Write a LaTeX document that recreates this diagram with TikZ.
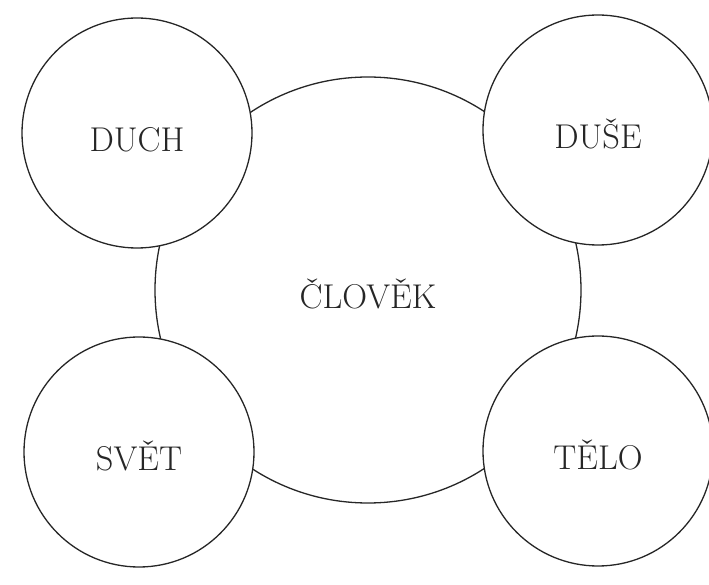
\documentclass[tikz,border=0pt]{standalone}
\usepackage{fontspec}
\begin{document}
\begin{tikzpicture}[
  x=0.5pt, y=0.5pt,
  line width=0.65pt,
  every node/.style={circle, draw=black!85, fill=white, inner sep=0pt, outer sep=0pt,
    text=black!85, text height=19pt, text depth=0pt, font=\fontsize{17.2}{20}\selectfont},
  small/.style={minimum size=115pt},
  big/.style={minimum size=213pt}
]
\useasboundingbox[fill=white] (0,0) rectangle (709,585);
\node[big] (clovek) at (368,295) {ČLOVĚK};
\node[small] (duch) at (137,452) {DUCH};
\node[small] (duse) at (598,455) {DUŠE};
\node[small] (svet) at (139,133) {SVĚT};
\node[small] (telo) at (598,134) {TĚLO};
\end{tikzpicture}
\end{document}
